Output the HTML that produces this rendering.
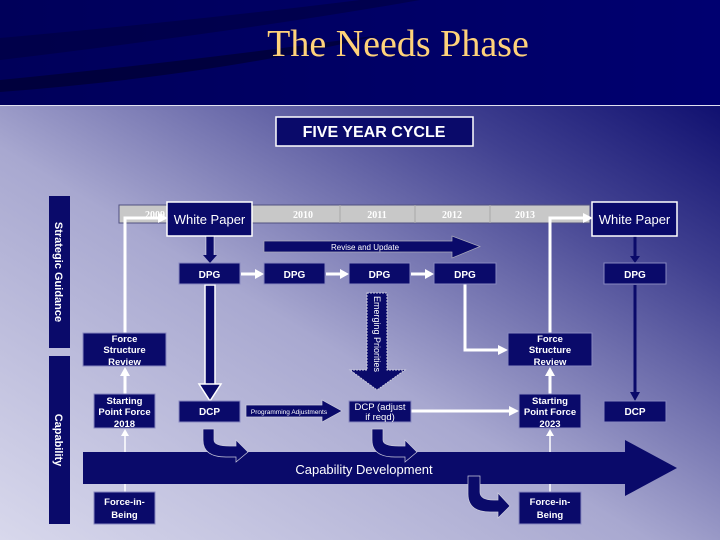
<!DOCTYPE html>
<html><head><meta charset="utf-8"><style>
html,body{margin:0;padding:0;width:720px;height:540px;overflow:hidden}
svg{display:block}
text{font-family:"Liberation Sans",Arial,sans-serif}
text.serif{font-family:"Liberation Serif",serif}
</style></head><body>
<svg width="720" height="540" viewBox="0 0 720 540" xmlns="http://www.w3.org/2000/svg">
<defs>
<linearGradient id="bg" x1="0" y1="1" x2="1" y2="0">
<stop offset="0" stop-color="#d8d8ec"/><stop offset="0.45" stop-color="#a8a8d0"/><stop offset="0.8" stop-color="#404090"/><stop offset="1" stop-color="#101070"/>
</linearGradient>
<linearGradient id="top" x1="0" y1="0" x2="1" y2="0">
<stop offset="0" stop-color="#00005a"/><stop offset="1" stop-color="#000070"/>
</linearGradient>
</defs>
<rect width="720" height="105" fill="url(#top)"/>
<path d="M0 38 Q200 20 360 0 L420 0 Q250 30 0 60 Z" fill="#000040" opacity="0.6"/>
<path d="M0 80 Q200 60 380 35 Q220 75 0 92 Z" fill="#000030" opacity="0.7"/>
<text class="serif" x="398" y="56" font-size="38" fill="#ffd27a" text-anchor="middle">The Needs Phase</text>
<rect x="0" y="105" width="720" height="435" fill="url(#bg)"/>
<line x1="0" y1="105.5" x2="720" y2="105.5" stroke="#e0e0f0" stroke-width="1"/>

<g font-weight="bold" fill="#fff" text-anchor="middle" font-size="10">
<rect x="276" y="117" width="197" height="29" fill="#0a0a6a" stroke="#fff" stroke-width="1.5"/>
<text x="374" y="137" font-size="16">FIVE YEAR CYCLE</text>
<rect x="49" y="196" width="21" height="152" fill="#0a0a6a"/>
<text transform="translate(55,272) rotate(90)" font-size="11">Strategic Guidance</text>
<rect x="49" y="356" width="21" height="168" fill="#0a0a6a"/>
<text transform="translate(55,440) rotate(90)" font-size="11">Capability</text>
<rect x="119" y="205" width="471" height="18" fill="#c8c8c8" stroke="#505080" stroke-width="1"/>
<g font-size="10">
<text class="serif" x="155" y="218">2009</text><text class="serif" x="303" y="218">2010</text><text class="serif" x="377" y="218">2011</text><text class="serif" x="452" y="218">2012</text><text class="serif" x="525" y="218">2013</text>
</g>
<g stroke="#a8a8a8"><line x1="340" y1="205" x2="340" y2="223"/><line x1="415" y1="205" x2="415" y2="223"/><line x1="490" y1="205" x2="490" y2="223"/></g>

<g stroke="#fff" stroke-width="3" fill="none">
<path d="M125 333 V218 H160"/>
<path d="M550 333 V218 H585"/>
<path d="M465 284 V350 H500"/>
<line x1="241" y1="274" x2="256" y2="274"/><line x1="326" y1="274" x2="341" y2="274"/><line x1="411" y1="274" x2="426" y2="274"/>
<line x1="125" y1="394" x2="125" y2="372"/><line x1="550" y1="394" x2="550" y2="372"/>
<line x1="411" y1="411" x2="511" y2="411"/>
</g>
<g stroke="#fff" stroke-width="1.5"><line x1="125" y1="492" x2="125" y2="434"/><line x1="550" y1="492" x2="550" y2="434"/></g>
<g fill="#fff">
<path d="M158 213 L168 218 L158 223Z"/><path d="M583 213 L593 218 L583 223Z"/><path d="M498 345 L508 350 L498 355Z"/>
<path d="M255 269 L264 274 L255 279Z"/><path d="M340 269 L349 274 L340 279Z"/><path d="M425 269 L434 274 L425 279Z"/>
<path d="M120 376 L125 367 L130 376Z"/><path d="M545 376 L550 367 L555 376Z"/>
<path d="M121 436 L125 429 L129 436Z"/><path d="M546 436 L550 429 L554 436Z"/>
<path d="M509 406 L519 411 L509 416Z"/>
</g>

<rect x="206" y="236" width="8" height="20" fill="#0a0a6a" stroke="#fff" stroke-width="0.5"/>
<path d="M203 255 L217 255 L210 263Z" fill="#0a0a6a"/>
<rect x="205" y="285" width="10" height="100" fill="#0a0a6a" stroke="#fff" stroke-width="1.5"/>
<path d="M199 384 L221 384 L210 401Z" fill="#0a0a6a" stroke="#fff" stroke-width="1.5"/>
<line x1="635" y1="236" x2="635" y2="257" stroke="#0a0a6a" stroke-width="3"/>
<path d="M630 256 L640 256 L635 263Z" fill="#0a0a6a"/>
<line x1="635" y1="285" x2="635" y2="393" stroke="#0a0a6a" stroke-width="3"/>
<path d="M630 392 L640 392 L635 401Z" fill="#0a0a6a"/>

<path d="M264 241 H452 V236 L480 246.5 L452 258 V252 H264Z" fill="#0a0a6a" stroke="#aab" stroke-width="0.7"/>
<text x="365" y="250" font-size="8" font-weight="normal">Revise and Update</text>
<path d="M367 293 H387 V370 H405 L377 390 L350 370 H367Z" fill="#0a0a6a" stroke="#ccd" stroke-width="1" stroke-dasharray="2,1"/>
<text transform="translate(374,296) rotate(90)" font-size="9" font-weight="normal" text-anchor="start">Emerging Priorities</text>
<path d="M246 405 H322 V400 L342 411 L322 422 V417 H246Z" fill="#0a0a6a" stroke="#ccd" stroke-width="0.7"/>
<text x="289" y="414" font-size="6.5" font-weight="normal">Programming Adjustments</text>

<path d="M83 452 H625 V440 L677 468 L625 496 V484 H83Z" fill="#0a0a6a"/>
<text x="364" y="474" font-size="13" font-weight="normal">Capability Development</text>

<path d="M203 429 H214 V440 Q214 446 230 446 H236 V440 L248 452 L236 462 V457 H226 Q203 457 203 440Z" fill="#0a0a6a" stroke="#ccd" stroke-width="0.7"/>
<path d="M372 429 H383 V440 Q383 446 399 446 H405 V440 L417 452 L405 462 V457 H395 Q372 457 372 440Z" fill="#0a0a6a" stroke="#ccd" stroke-width="0.7"/>
<path d="M468 476 H480 V492 Q480 500 494 500 H498 V493 L510 506 L498 518 V512 H490 Q468 512 468 494Z" fill="#0a0a6a" stroke="#ccd" stroke-width="0.7"/>

<g fill="#0a0a6a" stroke="#8888c0" stroke-width="1">
<rect x="179" y="263" width="61" height="21"/><rect x="264" y="263" width="61" height="21"/><rect x="349" y="263" width="61" height="21"/><rect x="434" y="263" width="62" height="21"/><rect x="604" y="263" width="62" height="21"/>
<rect x="83" y="333" width="83" height="33"/><rect x="508" y="333" width="84" height="33"/>
<rect x="94" y="394" width="61" height="34"/><rect x="519" y="394" width="62" height="34"/>
<rect x="179" y="401" width="61" height="21"/><rect x="349" y="401" width="62" height="21"/><rect x="604" y="401" width="62" height="21"/>
<rect x="94" y="492" width="61" height="32"/><rect x="519" y="492" width="62" height="32"/>
</g>
<rect x="167" y="202" width="85" height="34" fill="#0a0a6a" stroke="#fff" stroke-width="1.5"/>
<rect x="592" y="202" width="85" height="34" fill="#0a0a6a" stroke="#fff" stroke-width="1.5"/>
<text x="209.5" y="224" font-size="13" font-weight="normal">White Paper</text>
<text x="634.5" y="224" font-size="13" font-weight="normal">White Paper</text>
<text x="209.5" y="278">DPG</text><text x="294.5" y="278">DPG</text><text x="379.5" y="278">DPG</text><text x="465" y="278">DPG</text><text x="635" y="278">DPG</text>
<text x="124.5" y="342" font-size="9.5">Force</text><text x="124.5" y="353" font-size="9.5">Structure</text><text x="124.5" y="365" font-size="9.5">Review</text>
<text x="550" y="342" font-size="9.5">Force</text><text x="550" y="353" font-size="9.5">Structure</text><text x="550" y="365" font-size="9.5">Review</text>
<text x="124.5" y="404" font-size="9.5">Starting</text><text x="124.5" y="415" font-size="9.5">Point Force</text><text x="124.5" y="427" font-size="9.5">2018</text>
<text x="550" y="404" font-size="9.5">Starting</text><text x="550" y="415" font-size="9.5">Point Force</text><text x="550" y="427" font-size="9.5">2023</text>
<text x="209.5" y="415">DCP</text><text x="635" y="415">DCP</text>
<text x="380" y="410" font-size="9.5" font-weight="normal">DCP (adjust</text><text x="380" y="420" font-size="9.5" font-weight="normal">if reqd)</text>
<text x="124.5" y="505" font-size="9.5">Force-in-</text><text x="124.5" y="518" font-size="9.5">Being</text>
<text x="550" y="505" font-size="9.5">Force-in-</text><text x="550" y="518" font-size="9.5">Being</text>
</g>
</svg>
</body></html>
